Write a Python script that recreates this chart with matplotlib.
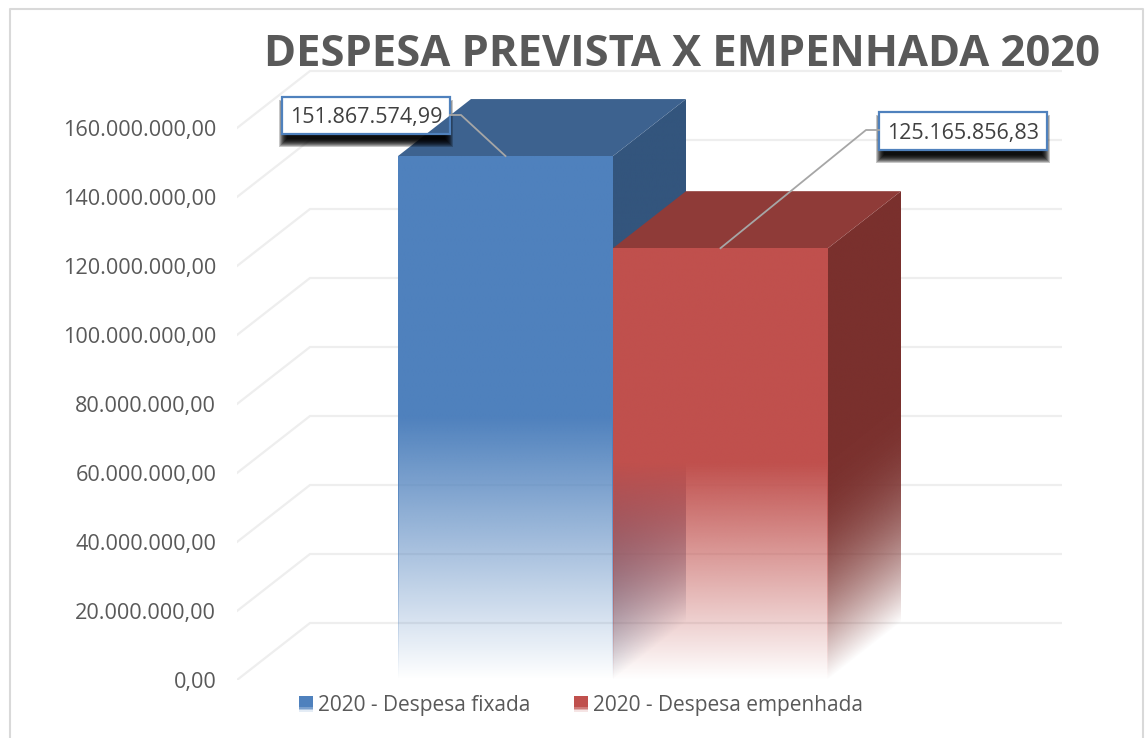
import numpy as np
import matplotlib
matplotlib.use("Agg")
import matplotlib.pyplot as plt
from matplotlib.colors import to_rgb
from matplotlib.legend_handler import HandlerBase
from matplotlib.patches import Patch, Polygon, Rectangle
from matplotlib.ticker import FuncFormatter
from matplotlib.transforms import IdentityTransform

series = ["2020 - Despesa fixada", "2020 - Despesa empenhada"]
values = [151867574.99, 125165856.83]
value_labels = ["151.867.574,99", "125.165.856,83"]
y_ticks = [0, 20e6, 40e6, 60e6, 80e6, 100e6, 120e6, 140e6, 160e6]
title = "DESPESA PREVISTA X EMPENHADA 2020"

front_colors = ["#4f81bd", "#c0504d"]
top_colors = ["#3d628f", "#8f3b38"]
side_colors = ["#33557d", "#7a302d"]
GRID = "#eeeeee"
TEXT = "#595959"

# depth of the fake 3D, in data units
DEPTH_X = 73 / 215
DEPTH_Y = 57 / 69 * 20e6

W, H = 1146, 738
plt.rcParams["font.family"] = ["Open Sans", "DejaVu Sans"]

fig = plt.figure(figsize=(W / 100, H / 100), dpi=100)
ax = fig.add_axes([237 / W, (H - 680) / H, (1062 - 237) / W, (680 - 59) / H])
xlim = ((237 - 505.5) / 215, (1062 - 505.5) / 215)
ylim = (0, 180e6)


def fade_face(pts, color, height, skew, z, doubled=False):
    # vertical fade: solid above half of the bar, gone at the floor
    pts = np.array(pts)
    x0, x1 = pts[:, 0].min(), pts[:, 0].max()
    y0, y1 = pts[:, 1].min(), pts[:, 1].max()
    xx, yy = np.meshgrid(np.linspace(x0, x1, 160), np.linspace(y1, y0, 500))
    v = yy - skew * (xx - x0)
    a = np.clip(v / (0.5 * height), 0, 1)
    if doubled:
        # side faces hold their colour longer
        a = 1 - (1 - a) ** 2
    img = np.zeros(xx.shape + (4,))
    img[..., :3] = to_rgb(color)
    img[..., 3] = a
    im = ax.imshow(img, extent=(x0, x1, y0, y1), aspect="auto", zorder=z,
                   interpolation="bilinear")
    poly = Polygon(pts, closed=True, transform=ax.transData, fc="none", ec="none")
    ax.add_patch(poly)
    im.set_clip_path(poly)


# gridlines on the wall and the floor-side diagonals
for t in y_ticks:
    ax.plot([xlim[0], xlim[0] + DEPTH_X, xlim[1]], [t, t + DEPTH_Y, t + DEPTH_Y],
            color=GRID, lw=1.6, zorder=1, solid_joinstyle="miter")

# bars
top_faces = []
EDGE = 0.0045
for i, v in enumerate(values):
    l, r = i - 0.5, i + 0.5
    z = 3 + i * 3
    side = [(r, 0), (r + DEPTH_X, DEPTH_Y), (r + DEPTH_X, v + DEPTH_Y), (r, v)]
    fade_face(side, side_colors[i], v, DEPTH_Y / DEPTH_X, z, doubled=True)
    top = [(l, v), (r, v), (r + DEPTH_X, v + DEPTH_Y), (l + DEPTH_X, v + DEPTH_Y)]
    ax.add_patch(Polygon(top, closed=True, fc=top_colors[i], ec="none", zorder=z + 1))
    top_faces.append(top)
    front = [(l, 0), (r, 0), (r, v), (l, v)]
    fade_face(front, front_colors[i], v, 0, z + 2)
    # thin outline of the front face, inside the face so the bar keeps its width
    for a, b in ((l, l + EDGE), (r - EDGE, r)):
        fade_face([(a, 0), (b, 0), (b, v), (a, v)], front_colors[i], v, 0, z + 2.5)

ax.set_xlim(xlim)
ax.set_ylim(ylim)
ax.set_xticks([])
ax.set_yticks(y_ticks)
ax.yaxis.set_major_formatter(FuncFormatter(
    lambda t, p: f"{t:,.2f}".replace(",", "#").replace(".", ",").replace("#", ".")))
ax.tick_params(axis="y", length=0, pad=15, labelsize=15.6, labelcolor=TEXT)
for s in ax.spines.values():
    s.set_visible(False)
ax.patch.set_alpha(0)

# data callouts, boxes given in picture pixels
boxes = [(282, 97, 450, 134), (879, 112, 1047, 150)]
elbows = [[(450, 115), (461, 115)], [(879, 130), (866, 130)]]
px = IdentityTransform()
for i, (x0, y0, x1, y1) in enumerate(boxes):
    rect = (x0, H - y1, x1 - x0, y1 - y0)
    # soft black shadow under the box, many faint layers grow towards the core
    for g in np.arange(8, -1, -1):
        ax.add_patch(Rectangle((x0 + 5 - g, H - y1 - 5 - g), x1 - x0 - 10 + 2 * g,
                               y1 - y0 + 2 * g - 6, transform=px, fc="black", ec="none",
                               alpha=0.22 + 0.1 * (8 - g) / 8, zorder=12, clip_on=False))
    ax.add_patch(Rectangle(rect[:2], rect[2], rect[3], transform=px, fc="white", ec="none",
                           zorder=13, clip_on=False))
    if i == 0:
        # the corner of the box sits behind the top of the blue bar
        clip = Rectangle(rect[:2], rect[2], rect[3], transform=px)
        over = Polygon(top_faces[0], closed=True, fc=top_colors[0], ec="none", zorder=14)
        ax.add_patch(over)
        over.set_clip_path(clip)
    ax.add_patch(Rectangle(rect[:2], rect[2], rect[3], transform=px, fc="none", ec="#4f81bd",
                           lw=1.6, zorder=15, clip_on=False))
    fig.canvas.draw()
    inv = ax.transData.inverted()
    pts = [inv.transform((a, H - b)) for a, b in elbows[i]] + [(i, values[i])]
    pts = np.array(pts)
    ax.plot(pts[:, 0], pts[:, 1], color="#a6a6a6", lw=1.3, zorder=16, clip_on=False)
    ax.text((x0 + x1) / 2, H - (y0 + y1) / 2, value_labels[i], transform=px, ha="center",
            va="center_baseline", fontsize=15.5, color="#404040", zorder=17)

# title
fig.text(1100 / W, (H - 55) / H, title, ha="right", va="center", fontsize=31.3,
         fontweight="bold", color=TEXT)


# legend keys fade out at the bottom
class FadeKey(HandlerBase):
    def create_artists(self, legend, orig, xd, yd, w, h, fs, trans):
        c = orig.get_facecolor()
        parts = [Rectangle((-xd, -yd + 0.3 * h), w, 0.7 * h, fc=c, ec="none", transform=trans)]
        for k, a in enumerate([0.15, 0.45, 0.75]):
            parts.append(Rectangle((-xd, -yd + 0.1 * k * h), w, 0.1 * h, fc=c, ec="none",
                                   alpha=a, transform=trans))
        return parts


handles = [Patch(fc=c, label=s) for c, s in zip(front_colors, series)]
fig.legend(handles=handles, loc="center", bbox_to_anchor=(581 / W, (H - 705.5) / H), ncol=2,
           frameon=False, fontsize=15, labelcolor=TEXT, handlelength=0.7, handleheight=0.8,
           handletextpad=0.25, columnspacing=2.05, borderpad=0,
           handler_map={Patch: FadeKey()})

# outer frame of the chart
fig.add_artist(plt.Line2D([10 / W, 10 / W, 1143 / W, 1143 / W],
                          [0, (H - 9) / H, (H - 9) / H, 0], color="#d9d9d9", lw=1.5))

fig.savefig("out.png", dpi=100)
